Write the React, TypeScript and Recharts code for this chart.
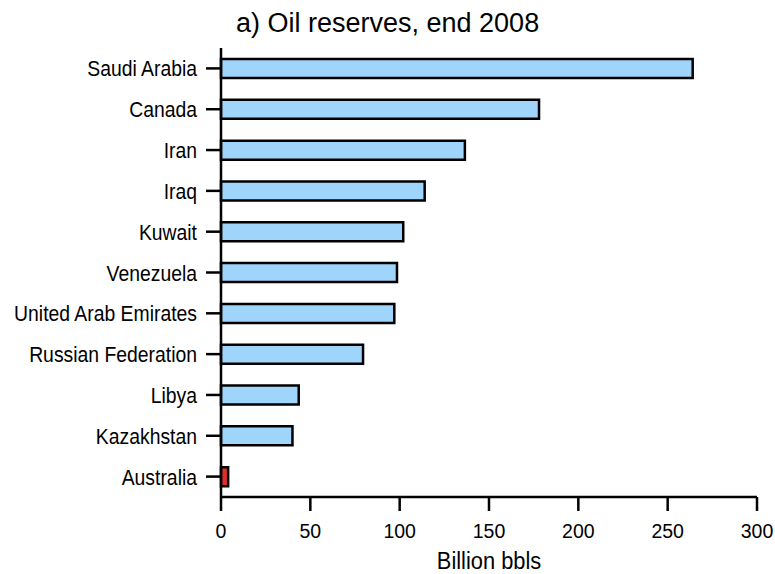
import { Bar, BarChart, Cell, Label, XAxis, YAxis } from "recharts";

const countries = [
  "Saudi Arabia",
  "Canada",
  "Iran",
  "Iraq",
  "Kuwait",
  "Venezuela",
  "United Arab Emirates",
  "Russian Federation",
  "Libya",
  "Kazakhstan",
  "Australia",
];
const reserves = [264, 178, 136.5, 114, 102, 98.5, 97, 79.5, 43.5, 40, 4];
const highlight = ["Australia"];
const xTicks = [0, 50, 100, 150, 200, 250, 300];

const FONT = "'Liberation Sans', Arial, sans-serif";

const data = countries.map((name, i) => ({ name, value: reserves[i] }));

// narrow, tall text like the original's Helvetica Condensed
function NarrowText({ x, y, value, size, sx, anchor }: any) {
  return (
    <text
      transform={`translate(${x},${y}) scale(${sx},1)`}
      textAnchor={anchor}
      fontFamily={FONT}
      fontSize={size}
      fill="#000"
    >
      {value}
    </text>
  );
}

const YTick = (props: any) => (
  <NarrowText x={props.x} y={props.y + 8} value={props.payload.value} size={22} sx={0.88} anchor="end" />
);

const XTick = (props: any) => (
  <NarrowText x={props.x} y={props.y + 15} value={props.payload.value} size={21} sx={0.93} anchor="middle" />
);

const XLabel = (props: any) => {
  const vb = props.viewBox;
  return <NarrowText x={vb.x + vb.width / 2} y={vb.y + vb.height - 4} value="Billion bbls" size={24} sx={0.91} anchor="middle" />;
};

export default function App() {
  return (
    <div style={{ position: "absolute", left: 0, top: 0, width: 775, height: 574, background: "#fff" }}>
      <div
        style={{
          position: "absolute",
          left: 236,
          top: 8,
          fontFamily: FONT,
          fontSize: 27,
          color: "#000",
          whiteSpace: "nowrap",
        }}
      >
        a) Oil reserves, end 2008
      </div>
      <BarChart
        width={775}
        height={574}
        data={data}
        layout="vertical"
        margin={{ top: 48, right: 18, bottom: 1, left: 0 }}
        barCategoryGap={0}
      >
        <XAxis
          type="number"
          domain={[0, 300]}
          ticks={xTicks}
          interval={0}
          height={76}
          tickSize={14}
          tickMargin={12}
          axisLine={{ stroke: "#000", strokeWidth: 2.5 }}
          tickLine={{ stroke: "#000", strokeWidth: 2.5 }}
          tick={XTick}
        >
          <Label content={XLabel} />
        </XAxis>
        <XAxis
          xAxisId="top"
          orientation="top"
          type="number"
          domain={[0, 300]}
          height={0}
          tick={false}
          tickLine={false}
          axisLine={{ stroke: "#000", strokeWidth: 2.5 }}
        />
        <YAxis
          type="category"
          dataKey="name"
          width={221}
          interval={0}
          tickSize={15}
          tickMargin={9}
          axisLine={{ stroke: "#000", strokeWidth: 2.5 }}
          tickLine={{ stroke: "#000", strokeWidth: 2.5 }}
          tick={YTick}
        />
        <YAxis
          yAxisId="right"
          orientation="right"
          type="category"
          dataKey="name"
          width={0}
          tick={false}
          tickLine={false}
          axisLine={{ stroke: "#000", strokeWidth: 2.5 }}
        />
        <Bar
          dataKey="value"
          barSize={19}
          stroke="#000"
          strokeWidth={2.5}
          isAnimationActive={false}
        >
          {data.map((d) => (
            <Cell key={d.name} fill={highlight.includes(d.name) ? "#e0302c" : "#9fd5fb"} />
          ))}
        </Bar>
      </BarChart>
    </div>
  );
}
